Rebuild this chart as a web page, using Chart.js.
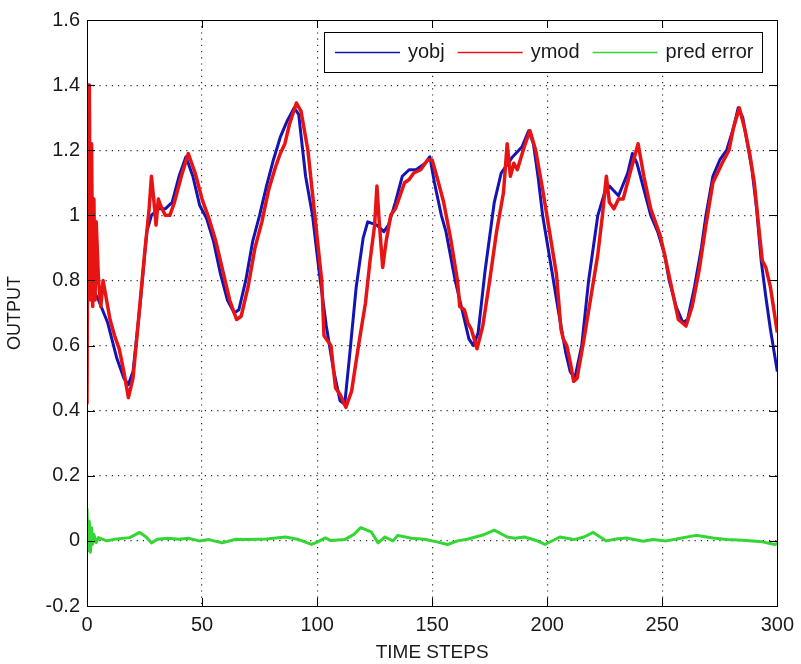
<!DOCTYPE html>
<html>
<head>
<meta charset="utf-8">
<script src="https://cdn.jsdelivr.net/npm/chart.js@4.4.1/dist/chart.umd.min.js"></script>
<style>
  html, body { margin: 0; padding: 0; background: #fff; }
  canvas { display: block; }
</style>
</head>
<body>
<canvas id="c" width="801" height="664"></canvas>
<script>
// ---------- data ----------
const xTicks = [0, 50, 100, 150, 200, 250, 300];
const yTicks = [-0.2, 0, 0.2, 0.4, 0.6, 0.8, 1, 1.2, 1.4, 1.6];

const objT = [0, 2, 5, 9, 13, 16, 18, 20, 23, 26, 28, 31, 34, 37, 40, 43, 46, 49, 52, 55, 58, 61, 64, 66, 69, 72, 75, 78, 81, 84, 87, 90, 92, 95, 98, 101, 104, 107, 110, 112, 114, 117, 120, 122, 126, 129, 131, 134, 137, 140, 143, 147, 149, 151, 154, 156, 160, 163, 166, 168, 170, 173, 177, 180, 185, 189, 192, 194, 196, 198, 202, 205, 208, 210, 212, 215, 218, 222, 225, 227, 231, 235, 237, 239, 242, 245, 248, 251, 253, 256, 259, 261, 264, 267, 269, 272, 275, 278, 281, 283, 285, 287, 289, 291, 293, 295, 297, 300];
const objY = [0.80, 0.78, 0.74, 0.67, 0.56, 0.50, 0.48, 0.52, 0.72, 0.95, 1.00, 1.02, 1.02, 1.04, 1.12, 1.18, 1.12, 1.03, 0.99, 0.92, 0.82, 0.74, 0.70, 0.71, 0.80, 0.92, 1.00, 1.09, 1.17, 1.24, 1.29, 1.33, 1.31, 1.12, 1.00, 0.82, 0.66, 0.53, 0.43, 0.42, 0.56, 0.78, 0.93, 0.98, 0.97, 0.95, 0.97, 1.04, 1.12, 1.14, 1.14, 1.16, 1.18, 1.10, 1.00, 0.95, 0.80, 0.71, 0.62, 0.60, 0.64, 0.83, 1.04, 1.13, 1.18, 1.21, 1.26, 1.22, 1.12, 1.00, 0.83, 0.70, 0.58, 0.52, 0.50, 0.60, 0.80, 1.00, 1.07, 1.09, 1.06, 1.13, 1.19, 1.16, 1.08, 1.00, 0.95, 0.88, 0.80, 0.72, 0.67, 0.68, 0.78, 0.90, 1.00, 1.12, 1.17, 1.20, 1.27, 1.33, 1.30, 1.22, 1.14, 1.02, 0.86, 0.75, 0.65, 0.52];

const modT = [0, 0.5, 1, 1.5, 2, 2.5, 3, 3.5, 4, 5, 6, 7, 8, 10, 12, 14, 16, 18, 20, 22, 25, 27, 28, 29, 30, 31, 32, 34, 36, 38, 41, 44, 47, 50, 53, 56, 59, 62, 65, 67, 70, 73, 76, 79, 82, 84, 86, 88, 91, 93, 96, 99, 102, 103, 104, 106, 108, 110, 112.5, 115, 118, 121, 123, 125, 126, 127, 128.5, 130, 132, 134, 136, 138, 140, 142, 145, 148, 150, 152, 155, 158, 161, 162, 164, 165.5, 167, 169.5, 172, 175, 178, 181, 182.6, 184, 185.5, 187, 190, 192.5, 195, 198, 201, 204, 206, 207, 208.5, 210, 211.5, 213, 216, 219, 222, 224, 225.7, 227, 229, 231, 233, 236, 239.5, 242, 245, 247, 249, 251, 254, 257, 260.3, 263, 266, 269, 272, 274, 276, 279, 281, 283.5, 286, 288, 290, 292, 293.5, 295, 297, 300];
const modY = [0.42, 1.40, 1.40, 0.74, 1.22, 0.72, 1.05, 0.74, 0.98, 0.80, 0.72, 0.80, 0.76, 0.68, 0.63, 0.59, 0.52, 0.44, 0.50, 0.65, 0.88, 1.02, 1.12, 1.05, 0.97, 1.05, 1.03, 1.00, 1.00, 1.04, 1.12, 1.19, 1.13, 1.05, 0.99, 0.92, 0.83, 0.74, 0.68, 0.69, 0.78, 0.90, 0.98, 1.08, 1.15, 1.19, 1.22, 1.28, 1.345, 1.32, 1.20, 1.00, 0.80, 0.63, 0.62, 0.60, 0.47, 0.45, 0.41, 0.46, 0.60, 0.73, 0.86, 0.97, 1.09, 0.98, 0.84, 0.92, 1.00, 1.02, 1.06, 1.10, 1.11, 1.13, 1.14, 1.17, 1.17, 1.12, 1.04, 0.93, 0.80, 0.72, 0.71, 0.67, 0.65, 0.59, 0.66, 0.80, 0.95, 1.07, 1.22, 1.12, 1.16, 1.14, 1.21, 1.26, 1.20, 1.08, 0.95, 0.82, 0.65, 0.62, 0.60, 0.55, 0.49, 0.50, 0.62, 0.75, 0.88, 1.00, 1.12, 1.04, 1.02, 1.05, 1.05, 1.13, 1.22, 1.12, 1.02, 0.98, 0.94, 0.88, 0.78, 0.68, 0.66, 0.72, 0.83, 0.97, 1.10, 1.13, 1.16, 1.20, 1.27, 1.33, 1.26, 1.19, 1.10, 0.96, 0.86, 0.84, 0.78, 0.64];

const errT = [0, 0.5, 1, 1.5, 2, 2.5, 3, 4, 5, 8.6, 12, 18.5, 22.9, 25.7, 28, 30.6, 35, 40, 44, 48.8, 53, 58.7, 64.7, 70, 78, 86.3, 92, 97.6, 100, 103.6, 106, 112, 116, 119, 123.5, 126.5, 129.5, 133, 135, 141, 146.7, 152, 156.7, 161, 165.3, 172, 177, 182.6, 186, 190, 195, 199, 205.5, 211.5, 216, 220, 225.7, 230, 234.4, 241.7, 246, 251.6, 258, 264.6, 272, 278, 285, 293.5, 299, 300];
const errY = [0.10, -0.03, 0.06, -0.035, 0.04, -0.01, 0.02, -0.005, 0.01, 0.0, 0.005, 0.01, 0.026, 0.012, -0.006, 0.005, 0.008, 0.005, 0.008, 0.0, 0.004, -0.006, 0.005, 0.004, 0.006, 0.012, 0.004, -0.011, -0.004, 0.009, 0.001, 0.004, 0.02, 0.041, 0.028, -0.006, 0.012, 0.0, 0.017, 0.008, 0.005, -0.003, -0.011, 0.0, 0.005, 0.018, 0.033, 0.012, 0.008, 0.012, 0.002, -0.011, 0.012, 0.004, 0.012, 0.026, 0.0, 0.006, 0.009, -0.001, 0.004, 0.0, 0.008, 0.017, 0.009, 0.004, 0.002, -0.003, -0.011, -0.008];

const seriesNames = ["yobj", "ymod", "pred error"];
const seriesColors = ["#1414b4", "#e81414", "#33d633"];

// ---------- helpers ----------
const FONT = "'Liberation Sans', Arial, Helvetica, sans-serif";
const pts = (ts, ys) => ts.map((t, i) => ({ x: t, y: ys[i] }));
const fmt = (v) => String(Number(v.toFixed(1)));

// box, inward ticks and the MATLAB style legend
const frame = {
  id: "frame",
  afterDraw(chart) {
    const { ctx, chartArea: a, scales } = chart;
    ctx.save();
    ctx.strokeStyle = "#000";
    ctx.lineWidth = 1;
    ctx.setLineDash([]);
    ctx.beginPath();
    const tl = 8;
    xTicks.forEach(v => {
      const px = Math.round(scales.x.getPixelForValue(v)) + 0.5;
      ctx.moveTo(px, a.bottom); ctx.lineTo(px, a.bottom - tl);
      ctx.moveTo(px, a.top); ctx.lineTo(px, a.top + tl);
    });
    yTicks.forEach(v => {
      const py = Math.round(scales.y.getPixelForValue(v)) + 0.5;
      ctx.moveTo(a.left, py); ctx.lineTo(a.left + tl, py);
      ctx.moveTo(a.right, py); ctx.lineTo(a.right - tl, py);
    });
    ctx.stroke();
    ctx.strokeRect(Math.round(a.left) + 0.5, Math.round(a.top) + 0.5, Math.round(a.right - a.left), Math.round(a.bottom - a.top));

    // legend
    ctx.font = "20px " + FONT;
    const lineLen = 65, gapText = 8, gapItem = 13, padL = 11, padR = 9;
    const ds = chart.data.datasets;
    let w = padL + padR;
    ds.forEach((d, i) => {
      w += lineLen + gapText + ctx.measureText(d.label).width + (i < ds.length - 1 ? gapItem : 0);
    });
    w = Math.round(w);
    const bx = Math.round(a.right - 15 - w), by = 32, bh = 40;
    ctx.fillStyle = "#fff";
    ctx.fillRect(bx, by, w, bh);
    ctx.strokeStyle = "#000";
    ctx.strokeRect(bx + 0.5, by + 0.5, w, bh);
    let x = bx + padL;
    const cy = by + bh / 2;
    ds.forEach((d) => {
      ctx.strokeStyle = d.borderColor;
      ctx.lineWidth = 1.3;
      ctx.beginPath();
      ctx.moveTo(x, cy + 0.5); ctx.lineTo(x + lineLen, cy + 0.5);
      ctx.stroke();
      x += lineLen + gapText;
      ctx.fillStyle = "#1a1a1a";
      ctx.textBaseline = "middle";
      ctx.fillText(d.label, x, cy);
      x += ctx.measureText(d.label).width + gapItem;
    });
    ctx.restore();
  }
};

const edgeClear = (vals) => (c) => {
  const v = c.tick && c.tick.value;
  return (v === vals[0] || v === vals[vals.length - 1]) ? "rgba(0,0,0,0)" : "#2a2a2a";
};

new Chart(document.getElementById("c"), {
  type: "line",
  data: {
    datasets: [
      { label: seriesNames[0], data: pts(objT, objY), borderColor: seriesColors[0], borderWidth: 3, order: 3 },
      { label: seriesNames[1], data: pts(modT, modY), borderColor: seriesColors[1], borderWidth: 3.5, order: 2 },
      { label: seriesNames[2], data: pts(errT, errY), borderColor: seriesColors[2], borderWidth: 3, order: 1 },
    ]
  },
  options: {
    responsive: false,
    animation: false,
    parsing: true,
    elements: { point: { radius: 0 }, line: { tension: 0, fill: false, borderJoinStyle: "round" } },
    layout: { padding: { top: 20, right: 19, left: 0, bottom: 0 } },
    plugins: { legend: { display: false }, tooltip: { enabled: false } },
    scales: {
      x: {
        type: "linear", min: 0, max: 300,
        afterBuildTicks: (s) => { s.ticks = xTicks.map(v => ({ value: v })); },
        afterFit: (s) => { s.height = 58; },
        ticks: { font: { family: FONT, size: 20 }, color: "#1a1a1a", padding: 7, maxRotation: 0 },
        grid: { color: edgeClear(xTicks), lineWidth: 1.2, drawTicks: false },
        border: { display: false, dash: [1.2, 5] },
        title: { display: true, text: "TIME STEPS", font: { family: FONT, size: 19 }, color: "#1a1a1a", padding: { top: 1, bottom: 0 } }
      },
      y: {
        type: "linear", min: -0.2, max: 1.6,
        afterBuildTicks: (s) => { s.ticks = yTicks.map(v => ({ value: v })); },
        afterFit: (s) => { s.width = 87; },
        ticks: { font: { family: FONT, size: 20 }, color: "#1a1a1a", padding: 7, callback: (v) => fmt(v) },
        grid: { color: edgeClear(yTicks), lineWidth: 1.2, drawTicks: false },
        border: { display: false, dash: [1.2, 5] },
        title: { display: true, text: "OUTPUT", font: { family: FONT, size: 18 }, color: "#1a1a1a", padding: { top: 4, bottom: 0 } }
      }
    }
  },
  plugins: [frame]
});
</script>
</body>
</html>
